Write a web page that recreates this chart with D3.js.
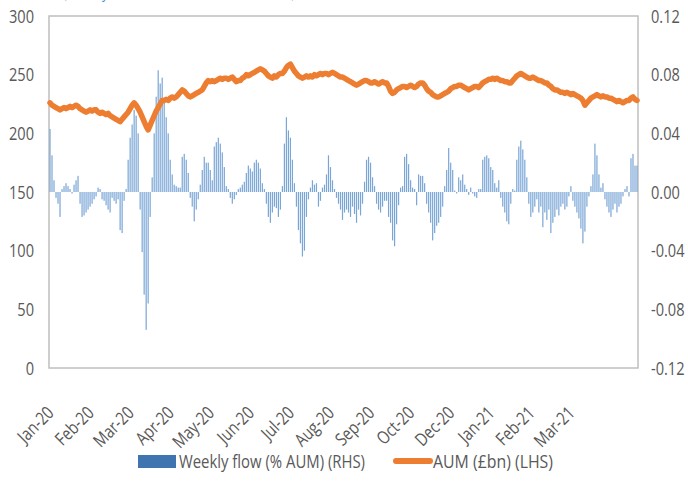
<!DOCTYPE html>
<html><head><meta charset="utf-8">
<script src="https://cdn.jsdelivr.net/npm/d3@7"></script>
<style>
html,body{margin:0;padding:0;background:#fff;}
svg{display:block;}
text{font-family:"Open Sans",sans-serif;fill:#595959;}
</style></head><body>
<svg id="c" width="688" height="504"></svg>
<script>
const monthLabels = ["Jan-20","Feb-20","Mar-20","Apr-20","May-20","Jun-20","Jul-20","Aug-20","Sep-20","Oct-20","Dec-20","Jan-21","Feb-21","Mar-21"];
const labelEvery = 20;
const leftTicks = [0,50,100,150,200,250,300];
const rightTicks = [-0.12,-0.08,-0.04,0,0.04,0.08,0.12];
const seriesNames = ["Weekly flow (% AUM) (RHS)","AUM (£bn) (LHS)"];

const weeklyFlow = [
0.043,0.025,0.008,-0.004,-0.008,-0.017,0.002,0.004,0.006,0.004,
0.002,-0.001,0.005,0.008,0.011,-0.008,-0.017,-0.016,-0.014,-0.012,
-0.010,-0.008,-0.005,-0.003,0.003,0.002,-0.005,-0.006,-0.009,-0.012,
-0.014,-0.004,-0.006,-0.008,-0.005,-0.026,-0.028,-0.006,0.002,0.022,
0.037,0.046,0.056,0.052,0.040,-0.012,-0.041,-0.070,-0.094,-0.076,
-0.017,0.010,0.040,0.065,0.083,0.074,0.078,0.063,0.051,0.040,
0.022,0.012,0.005,0.004,0.003,0.003,0.024,0.026,0.022,0.013,
-0.004,-0.010,-0.020,-0.012,-0.005,0.005,0.015,0.024,0.020,0.020,
0.015,0.008,0.031,0.034,0.037,0.033,0.027,0.017,0.004,0.002,
-0.004,-0.008,-0.005,-0.002,0.002,0.003,0.005,0.007,0.013,0.018,
0.016,0.014,0.020,0.022,0.020,0.016,0.006,0.002,-0.008,-0.017,
-0.021,-0.014,-0.010,-0.011,-0.017,-0.012,0.004,0.033,0.051,0.042,
0.037,0.022,0.006,-0.010,-0.026,-0.035,-0.044,-0.040,-0.017,-0.005,
0.003,0.008,0.005,0.006,-0.010,-0.006,0.003,0.005,0.012,0.025,
0.017,0.008,0.002,-0.004,-0.008,-0.012,-0.019,-0.014,-0.012,-0.014,
-0.017,-0.010,-0.015,-0.021,-0.012,-0.016,-0.008,0.007,0.022,0.024,
0.020,0.010,0.004,-0.008,-0.012,-0.014,-0.010,-0.006,-0.006,-0.017,
-0.021,-0.033,-0.037,-0.022,-0.009,0.003,0.004,0.024,0.026,0.019,
0.008,0.003,0.002,-0.009,0.012,0.011,0.011,0.006,-0.008,-0.014,
-0.021,-0.033,-0.028,-0.023,-0.021,-0.017,-0.010,0.004,0.015,0.030,
0.020,0.015,0.001,-0.001,0.010,0.008,0.012,0.005,0.002,-0.002,
0.003,-0.001,-0.003,-0.004,0.002,0.002,0.022,0.024,0.025,0.023,
0.017,0.015,0.006,0.003,0.008,-0.004,-0.010,-0.014,-0.020,-0.022,
-0.008,0.002,0.001,0.022,0.031,0.035,0.029,0.022,0.010,-0.008,
-0.017,-0.014,-0.010,-0.005,-0.014,-0.010,-0.024,-0.014,-0.019,-0.012,
-0.028,-0.021,-0.017,-0.012,-0.016,-0.010,-0.008,-0.012,-0.010,-0.003,
0.004,-0.006,-0.010,-0.014,-0.018,-0.025,-0.035,-0.027,-0.010,-0.003,
0.004,0.012,0.033,0.025,0.012,0.003,0.006,-0.005,-0.010,-0.014,
-0.017,-0.012,-0.008,-0.014,-0.010,-0.008,-0.003,0.002,0.004,-0.003,
0.023,0.026,0.018,0.018
];

const aum = [
226,224,223,222,221,220,221,222,221,222,
223,222,223,224,223,221,220,219,218,219,
220,219,220,220,218,217,218,217,216,217,
215,214,213,212,211,210,212,214,216,218,
221,224,226,224,221,218,214,210,206,203,
207,211,215,219,222,225,228,228,229,228,
230,231,230,231,233,235,237,236,234,232,
231,232,233,234,235,236,237,240,243,245,
244,245,244,245,246,247,246,247,247,246,
247,248,246,244,245,245,247,248,250,249,
250,251,252,253,254,255,254,253,251,249,
248,247,249,248,250,251,251,253,256,258,
259,256,253,251,249,248,247,248,249,248,
249,248,250,249,250,251,250,251,251,250,
251,252,251,250,249,248,248,247,246,245,
244,243,242,241,242,243,244,245,245,244,
243,243,244,243,242,243,244,243,243,240,
236,234,235,237,238,239,240,240,239,240,
241,240,239,240,242,243,243,241,238,236,
235,233,232,231,231,232,233,234,235,236,
238,239,240,240,241,241,240,239,238,237,
238,239,240,240,239,241,243,244,245,246,
246,247,246,247,246,245,245,244,244,243,
243,245,247,249,250,251,250,249,248,247,
247,248,247,246,245,245,244,243,243,241,
240,238,237,237,236,235,235,234,235,234,
233,234,233,232,231,230,228,224,226,228,
230,231,232,233,232,231,232,231,231,230,
230,229,228,227,228,227,226,227,228,228,
230,231,229,228
];

const idx = d3.range(weeklyFlow.length);
const plot = {left:49, right:638, top:16, bottom:368};
const SX = 0.81;

const svg = d3.select("#c");

const x = d3.scaleBand().domain(idx).range([plot.left, plot.right]).paddingInner(0.4).paddingOuter(0.2);
const yL = d3.scaleLinear().domain([0,300]).range([plot.bottom, plot.top]);
const yR = d3.scaleLinear().domain([-0.12,0.12]).range([plot.bottom, plot.top]);

// subtitle, cut off at the top edge as in the reference
svg.append("text").attr("x",63).attr("y",-2).attr("textLength",232).attr("lengthAdjust","spacingAndGlyphs")
  .style("font-size","17px").style("fill","#4a90d0").text("(Weekly flows and AUM, £bn, % of AUM)");

// frame
svg.append("rect").attr("x",plot.left).attr("y",plot.top)
  .attr("width",plot.right-plot.left).attr("height",plot.bottom-plot.top)
  .attr("fill","none").attr("stroke","#bfbfbf").attr("stroke-width",1.5);

// bars
svg.append("g").selectAll("rect").data(idx).join("rect")
  .attr("x", i => x(i))
  .attr("width", x.bandwidth())
  .attr("y", i => Math.min(yR(weeklyFlow[i]), yR(0)))
  .attr("height", i => Math.abs(yR(weeklyFlow[i]) - yR(0)))
  .attr("fill", "#7aa6d6");

// line
const line = d3.line().x(i => x(i) + x.bandwidth()/2).y(i => yL(aum[i])).curve(d3.curveLinear);
svg.append("path").datum(idx).attr("d", line)
  .attr("fill","none").attr("stroke","#ed7d31").attr("stroke-width",5.5)
  .attr("stroke-linejoin","round").attr("stroke-linecap","round");

// left axis
const gL = svg.append("g").attr("transform",`translate(${plot.left},0)`)
  .call(d3.axisLeft(yL).tickValues(leftTicks).tickSize(0).tickFormat(d3.format("d")));
gL.select(".domain").remove();
gL.selectAll("text").attr("x", -15/SX).attr("dy","0.35em").attr("transform",`scale(${SX},1)`)
  .style("font-size","18px").style("font-family","Open Sans").attr("fill","#595959");

// right axis
const gR = svg.append("g").attr("transform",`translate(${plot.right},0)`)
  .call(d3.axisRight(yR).tickValues(rightTicks).tickSize(0).tickFormat(d => d.toFixed(2)));
gR.select(".domain").remove();
gR.selectAll("text").attr("x", 13/SX).attr("dy","0.35em").attr("transform",`scale(${SX},1)`)
  .style("font-size","18px").style("font-family","Open Sans").attr("fill","#595959");

// bottom axis
const labelIdx = monthLabels.map((m,k) => k*labelEvery);
const gB = svg.append("g").attr("transform",`translate(0,${plot.bottom})`)
  .call(d3.axisBottom(x).tickValues(labelIdx).tickSize(0).tickFormat((d,k) => monthLabels[k]));
gB.select(".domain").remove();
gB.selectAll(".tick").each(function(){
  d3.select(this).select("text")
    .attr("x",0).attr("y",0).attr("dy",null)
    .attr("text-anchor","end")
    .attr("transform",`translate(5,46) rotate(-45) scale(${SX},1)`)
    .style("font-size","18px").style("font-family","Open Sans").attr("fill","#595959");
});

// legend
const lg = svg.append("g");
lg.append("rect").attr("x",138).attr("y",455).attr("width",38).attr("height",13).attr("fill","#3f74b1");
lg.append("text").attr("x",179).attr("y",468).attr("textLength",186).attr("lengthAdjust","spacingAndGlyphs")
  .style("font-size","18px").text(seriesNames[0]);
lg.append("line").attr("x1",396).attr("x2",430).attr("y1",461).attr("y2",461)
  .attr("stroke","#ed7d31").attr("stroke-width",6).attr("stroke-linecap","round");
lg.append("text").attr("x",433).attr("y",468).attr("textLength",120).attr("lengthAdjust","spacingAndGlyphs")
  .style("font-size","18px").text(seriesNames[1]);
</script>
</body></html>
